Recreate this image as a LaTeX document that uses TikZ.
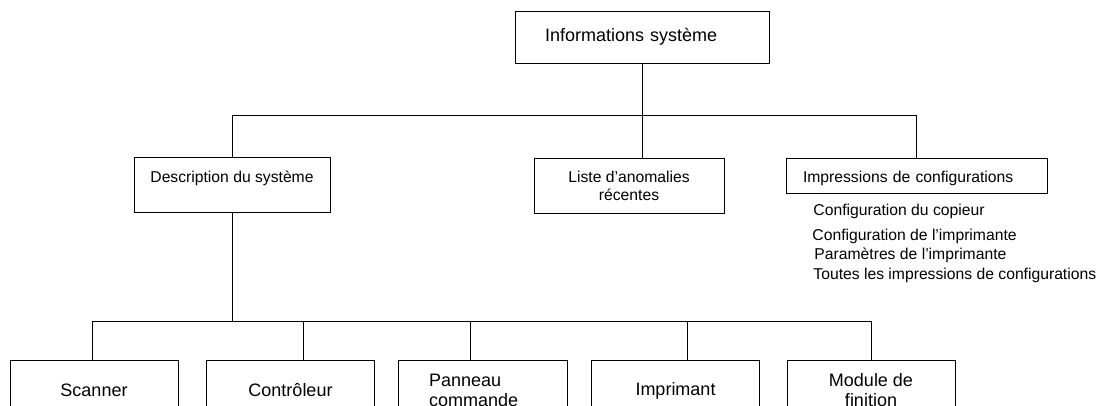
\documentclass[tikz,border=0pt]{standalone}
\usepackage{fontspec}
\setmainfont{Liberation Sans}

\begin{document}
\begin{tikzpicture}[x=1pt, y=-1pt, line width=0.9pt,
box/.style={draw, inner sep=0pt, align=center, font=\fontsize{15.7}{18}\selectfont},
bigbox/.style={box, minimum width=168pt, minimum height=60pt, anchor=north, font=\fontsize{18}{20}\selectfont},
item/.style={anchor=base west, inner sep=0pt, font=\fontsize{15.7}{18}\selectfont}
]
\clip (0,0) rectangle (1105,406);

\node[box, font=\fontsize{18}{20}\selectfont, minimum height=52pt, text width=194pt, inner xsep=30pt, align=left] (info) at (642,37) {Informations système};

\node[box, minimum width=196pt, text height=26pt, text depth=29pt] (desc) at (232,184.5) {Description du système};
\node[box, minimum width=190pt, minimum height=55pt] (liste) at (629,185.5) {Liste d'anomalies\\récentes};
\node[box, text height=25pt, text depth=10pt, text width=227pt, inner xsep=17pt, align=left] (impr) at (916.5,175.5) {Impressions de configurations};

\node[item] (cfgcop) at (813,215) {Configuration du copieur};
\node[item] (cfgimp) at (812,240) {Configuration de l'imprimante};
\node[item] (param) at (814,259) {Paramètres de l'imprimante};
\node[item] (toutes) at (813,279) {Toutes les impressions de configurations};

\node[bigbox] (scan) at (94,360) {Scanner};
\node[bigbox] (ctrl) at (290.5,360) {Contrôleur};
\node[bigbox, text width=107pt, inner xsep=31pt, align=left] (pann) at (482.5,360) {Panneau\\commande};
\node[bigbox] (imprim) at (675.5,360) {Imprimant};
\node[bigbox] (fin) at (871,360) {Module de\\finition};

\coordinate (bar) at (642,115);
\coordinate (j1) at (92,321);
\coordinate (j2) at (303,321);
\coordinate (j3) at (470,321);
\coordinate (j4) at (687,321);
\coordinate (j5) at (871,321);

\draw (info.south) -- (info.south |- liste.north);
\draw (desc.north) |- (impr.north |- bar) -- (impr.north);
\draw (desc.south) -- (desc.south |- j1);
\draw (j1 |- scan.north) -- (j1) -- (j5) -- (j5 |- fin.north);
\draw (j2) -- (j2 |- ctrl.north);
\draw (j3) -- (j3 |- pann.north);
\draw (j4) -- (j4 |- imprim.north);

\end{tikzpicture}
\end{document}
